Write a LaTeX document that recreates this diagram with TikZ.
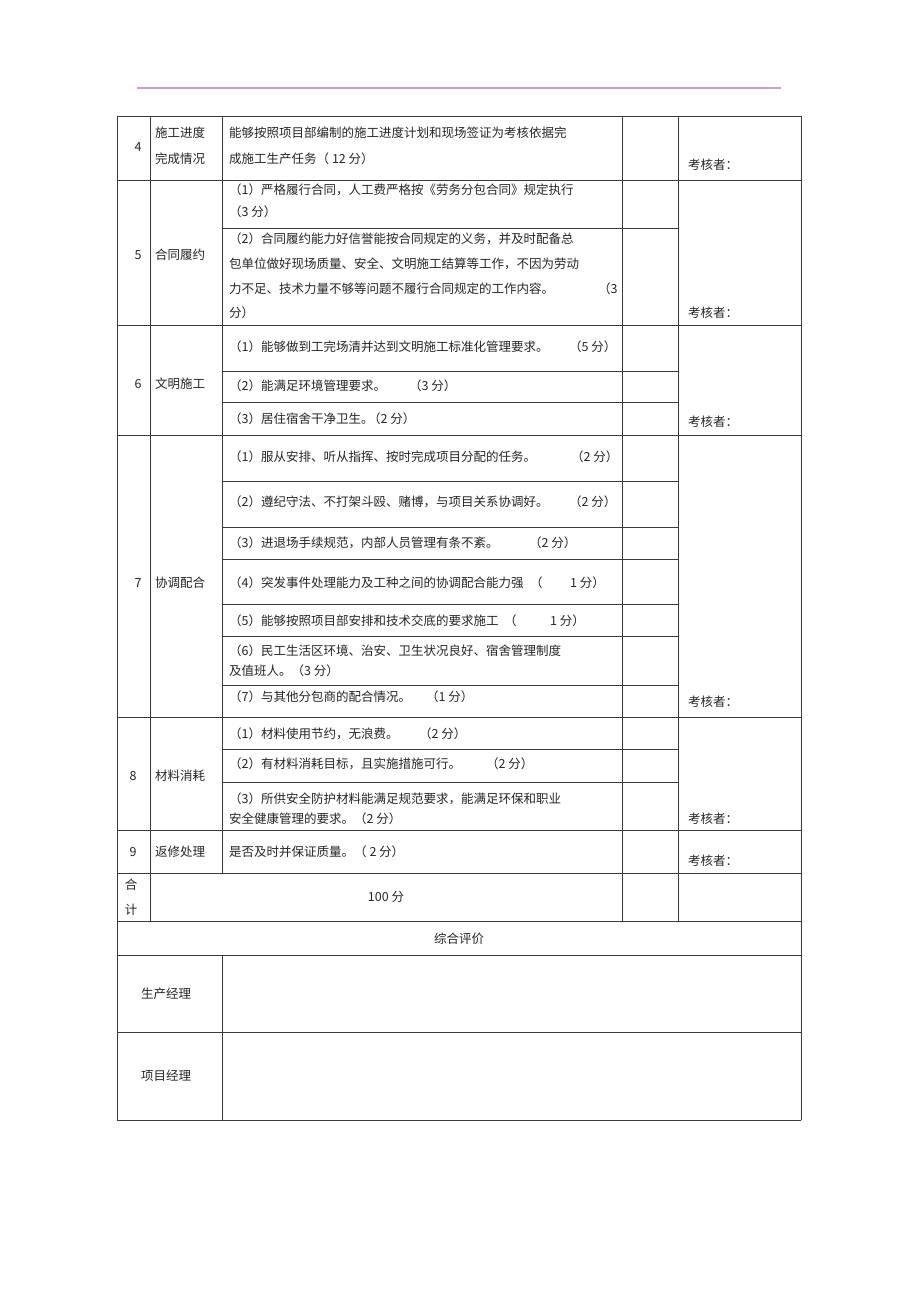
\documentclass[tikz,border=0pt]{standalone}
\usepackage{fontspec}
\newfontfamily\cjk{Noto Sans CJK SC}
\definecolor{hdr}{RGB}{200,160,205}
\definecolor{rulec}{RGB}{60,60,60}
\begin{document}
\begin{tikzpicture}[x=1pt,y=-1pt,
  txt/.style={font=\cjk\fontsize{12.5}{14}\selectfont, inner sep=0pt, anchor=west, text=black!85, text height=10.4pt, text depth=1.6pt},
  ctr/.style={txt, anchor=center},
  grid/.style={draw=rulec, line width=0.9pt, line cap=rect}]
\fill[white] (0,0) rectangle (920,1303);
\useasboundingbox (0,0) rectangle (920,1303);
% header rule
\draw[hdr, line width=1.2pt] (137,88) -- (781,88);
% table grid
\foreach \y in {116,180,325,435,717,830,873,921,955,1032,1120}
  \draw[grid] (117,\y) -- (801,\y);
\foreach \y in {228,371,402,481,527,559,604,636,685,749,782}
  \draw[grid] (222,\y) -- (678,\y);
\draw[grid] (117,116) -- (117,1120);
\draw[grid] (801,116) -- (801,1120);
\draw[grid] (150,116) -- (150,921);
\draw[grid] (222,116) -- (222,873);
\draw[grid] (222,955) -- (222,1120);
\draw[grid] (622,116) -- (622,921);
\draw[grid] (678,116) -- (678,921);
% row 4
\node[ctr] (r4n) at (138,147) {4};
\node[txt] (r4a) at (155,133) {施工进度};
\node[txt] (r4b) at (155,159) {完成情况};
\node[txt] (r4c) at (229,133) {能够按照项目部编制的施工进度计划和现场签证为考核依据完};
\node[txt] (r4d) at (229,159) {成施工生产任务（ 12 分）};
\node[txt] (r4k) at (688,165) {考核者：};
% row 5
\node[ctr] (r5n) at (138,255) {5};
\node[txt] (r5a) at (155,255) {合同履约};
\node[txt] (r5b) at (229,190) {（1）严格履行合同，人工费严格按《劳务分包合同》规定执行};
\node[txt] (r5c) at (229,212) {（3 分）};
\node[txt] (r5d) at (229,239) {（2）合同履约能力好信誉能按合同规定的义务，并及时配备总};
\node[txt] (r5e) at (229,264) {包单位做好现场质量、安全、文明施工结算等工作，不因为劳动};
\node[txt] (r5f) at (229,289) {力不足、技术力量不够等问题不履行合同规定的工作内容。};
\node[txt] (r5g) at (598,289) {（3};
\node[txt] (r5h) at (229,313) {分）};
\node[txt] (r5k) at (688,313) {考核者：};
% row 6
\node[ctr] (r6n) at (138,384) {6};
\node[txt] (r6a) at (155,384) {文明施工};
\node[txt] (r6b) at (229,347) {（1）能够做到工完场清并达到文明施工标准化管理要求。};
\node[txt] (r6b2) at (569,347) {（5 分）};
\node[txt] (r6c) at (229,386) {（2）能满足环境管理要求。};
\node[txt] (r6c2) at (409,386) {（3 分）};
\node[txt] (r6d) at (229,419) {（3）居住宿舍干净卫生。};
\node[txt] (r6d2) at (368,419) {（2 分）};
\node[txt] (r6k) at (688,422) {考核者：};
% row 7
\node[ctr] (r7n) at (138,583) {7};
\node[txt] (r7a) at (155,583) {协调配合};
\node[txt] (r7b) at (229,457) {（1）服从安排、听从指挥、按时完成项目分配的任务。};
\node[txt] (r7b2) at (571,457) {（2 分）};
\node[txt] (r7c) at (229,502) {（2）遵纪守法、不打架斗殴、赌博，与项目关系协调好。};
\node[txt] (r7c2) at (569,502) {（2 分）};
\node[txt] (r7d) at (229,543) {（3）进退场手续规范，内部人员管理有条不紊。};
\node[txt] (r7d2) at (529,543) {（2 分）};
\node[txt] (r7e) at (229,583) {（4）突发事件处理能力及工种之间的协调配合能力强};
\node[txt] (r7e2) at (530,583) {（};
\node[txt] (r7e3) at (570,583) {1 分）};
\node[txt] (r7f) at (229,621) {（5）能够按照项目部安排和技术交底的要求施工};
\node[txt] (r7f2) at (504,621) {（};
\node[txt] (r7f3) at (550,621) {1 分）};
\node[txt] (r7g) at (229,651) {（6）民工生活区环境、治安、卫生状况良好、宿舍管理制度};
\node[txt] (r7h) at (229,671) {及值班人。（3 分）};
\node[txt] (r7i) at (229,697) {（7）与其他分包商的配合情况。};
\node[txt] (r7i2) at (426,697) {（1 分）};
\node[txt] (r7k) at (688,702) {考核者：};
% row 8
\node[ctr] (r8n) at (133,776) {8};
\node[txt] (r8a) at (155,776) {材料消耗};
\node[txt] (r8b) at (229,734) {（1）材料使用节约，无浪费。};
\node[txt] (r8b2) at (419,734) {（2 分）};
\node[txt] (r8c) at (229,764) {（2）有材料消耗目标，且实施措施可行。};
\node[txt] (r8c2) at (486,764) {（2 分）};
\node[txt] (r8d) at (229,799) {（3）所供安全防护材料能满足规范要求，能满足环保和职业};
\node[txt] (r8e) at (229,819) {安全健康管理的要求。（2 分）};
\node[txt] (r8k) at (688,819) {考核者：};
% row 9
\node[ctr] (r9n) at (133,852) {9};
\node[txt] (r9a) at (155,852) {返修处理};
\node[txt] (r9b) at (229,852) {是否及时并保证质量。（ 2 分）};
\node[txt] (r9k) at (688,861) {考核者：};
% total
\node[ctr] (tot1) at (131,885) {合};
\node[ctr] (tot2) at (131,910) {计};
\node[ctr] (tot3) at (386,897) {100 分};
\node[ctr] (eval) at (459,939) {综合评价};
\node[ctr] (mgr1) at (166,994) {生产经理};
\node[ctr] (mgr2) at (166,1076) {项目经理};
\end{tikzpicture}
\end{document}
